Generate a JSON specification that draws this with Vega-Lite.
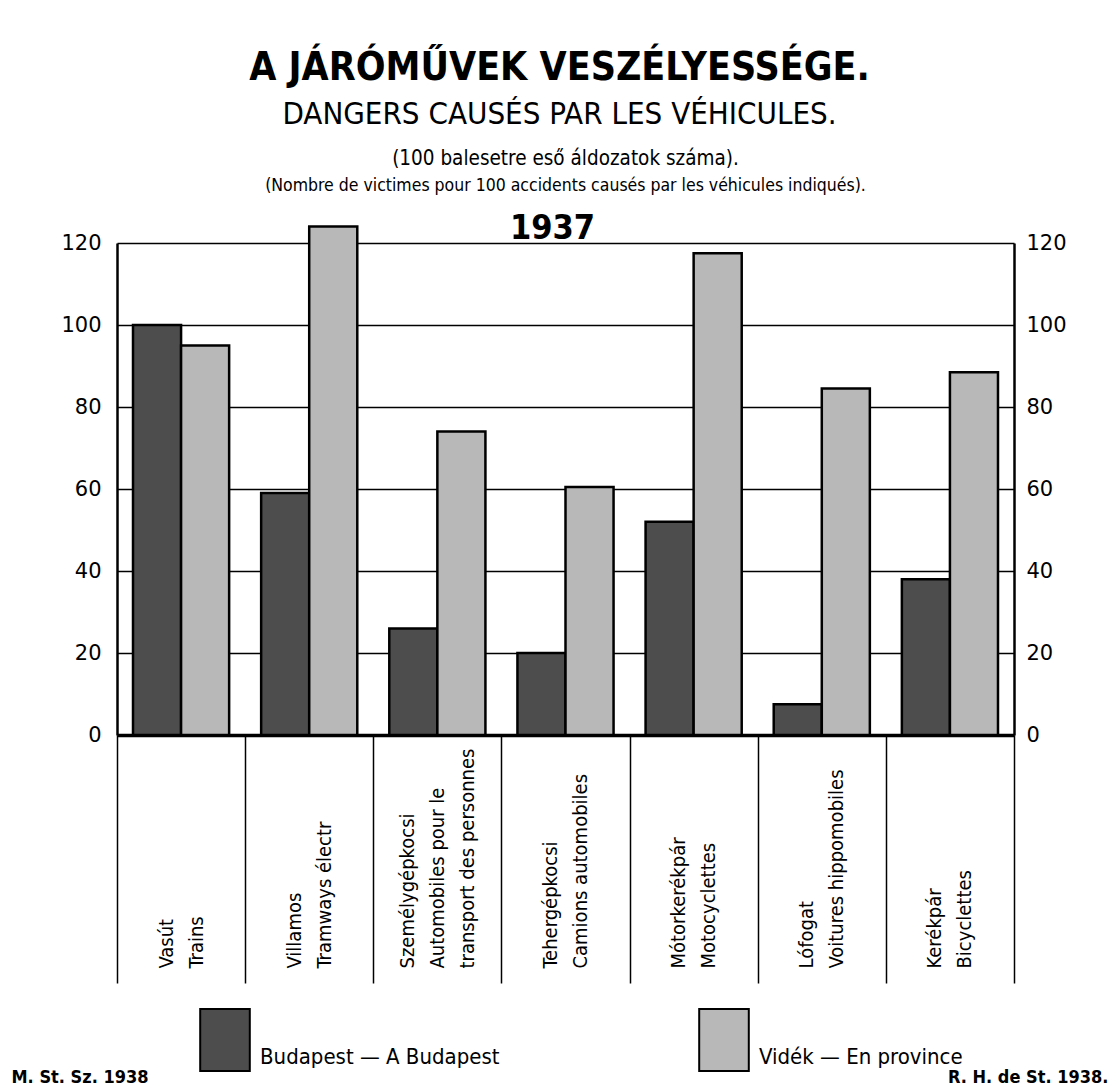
{
  "$schema": "https://vega.github.io/schema/vega-lite/v6.json",
  "padding": {"left": 11, "top": 49, "right": 8, "bottom": 4},
  "background": "white",
  "title": {
    "text": "A JÁRÓMŰVEK VESZÉLYESSÉGE.",
    "subtitle": "DANGERS CAUSÉS PAR LES VÉHICULES.",
    "font": "'Liberation Sans Narrow', 'DejaVu Sans Condensed', 'Liberation Sans'",
    "fontSize": 39,
    "fontWeight": "bold",
    "color": "black",
    "subtitleFont": "'Liberation Sans Narrow', 'DejaVu Sans Condensed', 'Liberation Sans'",
    "subtitleFontSize": 31,
    "subtitleColor": "black",
    "subtitlePadding": 12,
    "offset": 19,
    "anchor": "middle"
  },
  "vconcat": [
    {
      "title": {
        "text": "(100 balesetre eső áldozatok száma).",
        "subtitle": "(Nombre de victimes pour 100 accidents causés par les véhicules indiqués).",
        "font": "'Liberation Sans Narrow', 'DejaVu Sans Condensed', 'Liberation Sans'",
        "fontSize": 20.5,
        "fontWeight": "normal",
        "color": "black",
        "subtitleFont": "'Liberation Sans Narrow', 'DejaVu Sans Condensed', 'Liberation Sans'",
        "subtitleFontSize": 17.5,
        "subtitleColor": "black",
        "subtitlePadding": 7,
        "offset": 17,
        "anchor": "middle"
      },
      "width": 897,
      "height": 492,
      "data": {
        "values": [
          {"vehicle": "Vasút|Trains", "region": "Budapest — A Budapest", "value": 100},
          {"vehicle": "Vasút|Trains", "region": "Vidék — En province", "value": 95},
          {"vehicle": "Villamos|Tramways électr", "region": "Budapest — A Budapest", "value": 59},
          {"vehicle": "Villamos|Tramways électr", "region": "Vidék — En province", "value": 124},
          {"vehicle": "Személygépkocsi|Automobiles pour le|transport des personnes", "region": "Budapest — A Budapest", "value": 26},
          {"vehicle": "Személygépkocsi|Automobiles pour le|transport des personnes", "region": "Vidék — En province", "value": 74},
          {"vehicle": "Tehergépkocsi|Camions automobiles", "region": "Budapest — A Budapest", "value": 20},
          {"vehicle": "Tehergépkocsi|Camions automobiles", "region": "Vidék — En province", "value": 60.5},
          {"vehicle": "Mótorkerékpár|Motocyclettes", "region": "Budapest — A Budapest", "value": 52},
          {"vehicle": "Mótorkerékpár|Motocyclettes", "region": "Vidék — En province", "value": 117.5},
          {"vehicle": "Lófogat|Voitures hippomobiles", "region": "Budapest — A Budapest", "value": 7.5},
          {"vehicle": "Lófogat|Voitures hippomobiles", "region": "Vidék — En province", "value": 84.5},
          {"vehicle": "Kerékpár|Bicyclettes", "region": "Budapest — A Budapest", "value": 38},
          {"vehicle": "Kerékpár|Bicyclettes", "region": "Vidék — En province", "value": 88.5}
        ]
      },
      "layer": [
        {
          "mark": {"type": "bar", "stroke": "black", "strokeWidth": 2.5},
          "encoding": {
            "x": {
              "field": "vehicle",
              "type": "nominal",
              "sort": null,
              "scale": {"paddingInner": 0, "paddingOuter": 0},
              "axis": {
                "title": "1937",
                "titleX": 435,
                "titleY": -497,
                "titleAlign": "center",
                "titleBaseline": "alphabetic",
                "titleFont": "'Liberation Sans Narrow', 'DejaVu Sans Condensed', 'Liberation Sans'",
                "titleFontSize": 34,
                "titleFontWeight": "bold",
                "titleColor": "black",
                "labelExpr": "split(datum.label, '|')",
                "labelAngle": 270,
                "labelAlign": "left",
                "labelBaseline": "middle",
                "labelOffset": {"condition": {"test": "indexof(datum.label, 'transport') >= 0", "value": -30}, "value": -15},
                "labelFont": "'Liberation Sans Narrow', 'DejaVu Sans Condensed', 'Liberation Sans'",
                "labelFontSize": 20,
                "labelLineHeight": 30,
                "labelColor": "black",
                "labelPadding": -15,
                "labelLimit": 0,
                "labelOverlap": false,
                "labelBound": false,
                "ticks": true,
                "tickBand": "extent",
                "tickSize": 248,
                "tickColor": "black",
                "tickWidth": 1.5,
                "domain": true,
                "domainColor": "black",
                "domainWidth": 3.5,
                "grid": false
              }
            },
            "xOffset": {
              "field": "region",
              "type": "nominal",
              "sort": ["Budapest — A Budapest", "Vidék — En province"],
              "scale": {"paddingOuter": 0.333, "paddingInner": 0}
            },
            "y": {
              "field": "value",
              "type": "quantitative",
              "scale": {"domain": [0, 120], "nice": false},
              "axis": {
                "orient": "left",
                "values": [0, 20, 40, 60, 80, 100, 120],
                "grid": true,
                "gridColor": "black",
                "gridWidth": 1.5,
                "gridOpacity": 1,
                "ticks": false,
                "domain": true,
                "domainColor": "black",
                "domainWidth": 2.5,
                "labelFont": "DejaVu Sans",
                "labelFontSize": 21,
                "labelColor": "black",
                "labelPadding": 16,
                "title": "M. St. Sz. 1938",
                "titleAngle": 0,
                "titleX": -106,
                "titleY": 839,
                "titleAlign": "left",
                "titleBaseline": "alphabetic",
                "titleFont": "'Liberation Sans Narrow', 'DejaVu Sans Condensed', 'Liberation Sans'",
                "titleFontSize": 18,
                "titleFontWeight": "bold",
                "titleColor": "black"
              }
            },
            "color": {
              "field": "region",
              "type": "nominal",
              "sort": ["Budapest — A Budapest", "Vidék — En province"],
              "scale": {"range": ["#4d4d4d", "#b8b8b8"]},
              "legend": {
                "orient": "none",
                "legendX": 76,
                "legendY": 765,
                "direction": "horizontal",
                "title": null,
                "padding": 0,
                "symbolType": "M-0.8,-1L0.8,-1L0.8,1L-0.8,1Z",
                "symbolSize": 3844,
                "symbolStrokeColor": "black",
                "symbolStrokeWidth": 2,
                "symbolOpacity": 1,
                "labelExpr": "['', datum.label]",
                "labelFont": "'Liberation Sans Narrow', 'DejaVu Sans Condensed', 'Liberation Sans'",
                "labelFontSize": 22,
                "labelColor": "black",
                "labelOffset": 3,
                "labelLimit": 0,
                "labelBaseline": "alphabetic",
                "columnPadding": 192
              }
            }
          }
        },
        {
          "mark": {"type": "point", "opacity": 0},
          "encoding": {
            "y": {
              "field": "value",
              "type": "quantitative",
              "axis": {
                "orient": "right",
                "values": [0, 20, 40, 60, 80, 100, 120],
                "grid": false,
                "ticks": false,
                "domain": true,
                "domainColor": "black",
                "domainWidth": 2.5,
                "labelFont": "DejaVu Sans",
                "labelFontSize": 21,
                "labelColor": "black",
                "labelPadding": 12,
                "labelAlign": "left",
                "title": "R. H. de St. 1938.",
                "titleAngle": 0,
                "titleX": 94,
                "titleY": 839,
                "titleAlign": "right",
                "titleBaseline": "alphabetic",
                "titleFont": "'Liberation Sans Narrow', 'DejaVu Sans Condensed', 'Liberation Sans'",
                "titleFontSize": 18,
                "titleFontWeight": "bold",
                "titleColor": "black"
              }
            }
          }
        }
      ],
      "resolve": {"axis": {"y": "independent"}}
    }
  ],
  "config": {
    "view": {"stroke": null},
    "concat": {"spacing": 0}
  }
}
